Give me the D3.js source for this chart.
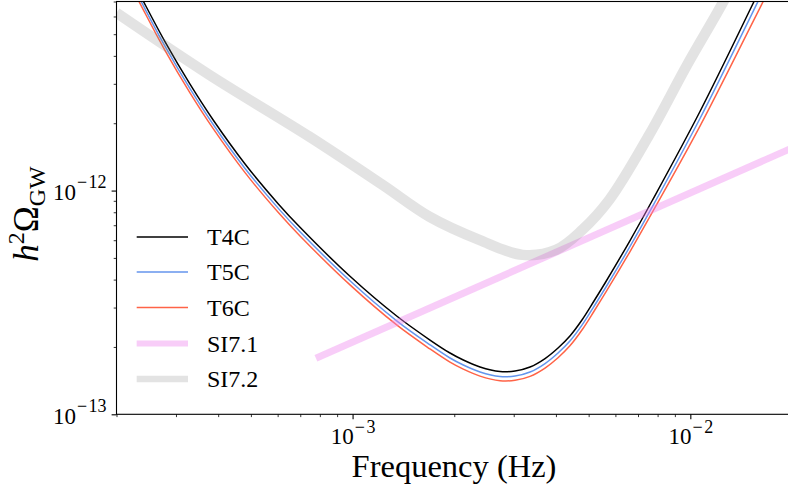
<!DOCTYPE html>
<html><head><meta charset="utf-8">
<script src="https://cdn.jsdelivr.net/npm/d3@7"></script>
<style>
body{margin:0;background:#fff}
svg{display:block}
</style>
</head><body>
<svg id="c" width="788" height="493"></svg>
<script>
// ---- data ----
const freqT = [2.0e-4, 2.391e-4, 2.783e-4, 3.301e-4, 3.862e-4, 4.804e-4, 6.028e-4, 6.988e-4, 9.826e-4,
  1.3508e-3, 1.6953e-3, 1.9428e-3, 2.1275e-3, 2.3842e-3, 2.7317e-3, 3.027e-3, 3.353e-3, 3.714e-3,
  4.058e-3, 4.401e-3, 4.777e-3, 5.186e-3, 5.627e-3, 6.629e-3, 7.700e-3, 1.068e-2, 1.536e-2, 1.7804e-2];
const t4c = [1.201e-11, 7.11e-12, 4.63e-12, 2.988e-12, 2.072e-12, 1.315e-12, 8.718e-13, 6.853e-13, 4.139e-13,
  2.750e-13, 2.148e-13, 1.879e-13, 1.748e-13, 1.6276e-13, 1.5534e-13, 1.5615e-13, 1.6276e-13, 1.7755e-13,
  1.9786e-13, 2.2388e-13, 2.6392e-13, 3.2089e-13, 3.9225e-13, 5.981e-13, 8.981e-13, 2.257e-12, 6.893e-12, 1.095e-11];
const t5c = [1.147e-11, 6.79e-12, 4.42e-12, 2.854e-12, 1.979e-12, 1.256e-12, 8.326e-13, 6.545e-13, 3.953e-13,
  2.618e-13, 2.045e-13, 1.785e-13, 1.661e-13, 1.5462e-13, 1.4757e-13, 1.4834e-13, 1.5462e-13, 1.6867e-13,
  1.8797e-13, 2.1246e-13, 2.5020e-13, 3.0388e-13, 3.7068e-13, 5.628e-13, 8.406e-13, 2.099e-12, 6.342e-12, 1.002e-11];
const t6c = [1.099e-11, 6.506e-12, 4.236e-12, 2.734e-12, 1.896e-12, 1.203e-12, 7.977e-13, 6.270e-13, 3.787e-13,
  2.508e-13, 1.959e-13, 1.710e-13, 1.591e-13, 1.4811e-13, 1.4136e-13, 1.4194e-13, 1.4779e-13, 1.6104e-13,
  1.7906e-13, 2.0239e-13, 2.3806e-13, 2.8880e-13, 3.5224e-13, 5.341e-13, 7.948e-13, 1.941e-12, 5.721e-12, 8.924e-12];
const si71Freq = [7.79e-4, 2.0e-2];
const si71 = [1.78e-13, 1.55e-12];
const si72Freq = [2.0e-4, 3.766e-4, 7.44e-4, 1.227e-3, 1.687e-3, 2.372e-3, 3.186e-3, 4.0e-3, 4.786e-3,
  5.754e-3, 7.554e-3, 9.79e-3, 1.246e-2, 1.349e-2];
const si72 = [6.23e-12, 3.29e-12, 1.744e-12, 1.06e-12, 7.65e-13, 6.02e-13, 5.16e-13, 5.43e-13, 6.67e-13,
  9.09e-13, 1.774e-12, 3.65e-12, 6.89e-12, 8.75e-12];
const xMajorExps = [-3, -2];
const yMajorExps = [-13, -12];
const xMinorTicks = [2e-4,3e-4,4e-4,5e-4,6e-4,7e-4,8e-4,9e-4,2e-3,3e-3,4e-3,5e-3,6e-3,7e-3,8e-3,9e-3];
const yMinorTicks = [2e-13,3e-13,4e-13,5e-13,6e-13,7e-13,8e-13,9e-13,2e-12,3e-12,4e-12,5e-12,6e-12,7e-12];
const legendLabels = ["T4C", "T5C", "T6C", "SI7.1", "SI7.2"];

// ---- layout ----
const FONT = '"Liberation Serif","DejaVu Serif","Times New Roman",serif';
const L = 116.5, R = 792, T = 1.5, B = 414.3;
const svg = d3.select("#c").style("font-family", FONT);
const x = d3.scaleLog().domain([2e-4, 2e-2]).range([L, R]);
const y = d3.scaleLog().domain([1e-13, 7e-12]).range([B, T]);

svg.append("defs").append("clipPath").attr("id","clip")
  .append("rect").attr("x",L).attr("y",T).attr("width",R-L).attr("height",B-T);

const styles = [
  {color:"#000000", w:1.5, lw:1.5, op:1},
  {color:"#6495ED", w:1.5, lw:1.5, op:1},
  {color:"#FF6347", w:1.5, lw:1.5, op:1},
  {color:"rgb(238,130,238)", w:7, lw:6, op:0.4},
  {color:"rgb(128,128,128)", w:10.5, lw:6.5, op:0.22}
];
const series = [
  freqT.map((f,i)=>[f,t4c[i]]),
  freqT.map((f,i)=>[f,t5c[i]]),
  freqT.map((f,i)=>[f,t6c[i]]),
  si71Freq.map((f,i)=>[f,si71[i]]),
  si72Freq.map((f,i)=>[f,si72[i]])
];
const line = d3.line().x(d=>x(d[0])).y(d=>y(d[1])).curve(d3.curveCatmullRom.alpha(0.5));
const g = svg.append("g").attr("clip-path","url(#clip)");
series.forEach((s,i)=>{
  g.append("path").datum(s).attr("d",line).attr("fill","none")
   .attr("stroke",styles[i].color).attr("stroke-width",styles[i].w)
   .attr("stroke-opacity",styles[i].op).attr("stroke-linecap","butt");
});

function styleText(sel){ sel.style("font-family", FONT).attr("fill","#000"); }
function powerLabel(t, e, raise){
  t.append("tspan").text("10");
  t.append("tspan").attr("dy",-raise).attr("dx",1).attr("font-size",18).text("\u2212");
  t.append("tspan").attr("dx",1.5).attr("font-size",18).text(e);
}

// ---- axes ----
const xMinor = d3.axisBottom(x).tickValues(xMinorTicks).tickSize(2.8).tickFormat("");
svg.append("g").attr("transform",`translate(0,${B})`).call(xMinor)
  .call(a=>a.select(".domain").remove())
  .selectAll("line").attr("stroke","#000").attr("stroke-width",0.8);
const xMajor = d3.axisBottom(x).tickValues(xMajorExps.map(e=>Math.pow(10,e))).tickSize(4.9).tickPadding(7)
  .tickFormat(d=>String(Math.round(-Math.log10(d))));
const xa = svg.append("g").attr("transform",`translate(0,${B})`).call(xMajor);
xa.attr("font-family",null);
xa.select(".domain").remove();
xa.selectAll("line").attr("stroke","#000").attr("stroke-width",1.1);
xa.selectAll("text").each(function(){
  const e = d3.select(this).text();
  const t = d3.select(this).text(null).attr("font-size",23).attr("y",30).attr("dy",0);
  styleText(t);
  powerLabel(t, e, 11);
});

const yMinor = d3.axisLeft(y).tickValues(yMinorTicks).tickSize(2.8).tickFormat("");
svg.append("g").attr("transform",`translate(${L},0)`).call(yMinor)
  .call(a=>a.select(".domain").remove())
  .selectAll("line").attr("stroke","#000").attr("stroke-width",0.8);
const yMajor = d3.axisLeft(y).tickValues(yMajorExps.map(e=>Math.pow(10,e))).tickSize(4.9).tickPadding(5)
  .tickFormat(d=>String(Math.round(-Math.log10(d))));
const ya = svg.append("g").attr("transform",`translate(${L},0)`).call(yMajor);
ya.attr("font-family",null);
ya.select(".domain").remove();
ya.selectAll("line").attr("stroke","#000").attr("stroke-width",1.1);
ya.selectAll("text").each(function(){
  const e = d3.select(this).text();
  const t = d3.select(this).text(null).attr("font-size",23).attr("dy",0).attr("y",9);
  styleText(t);
  powerLabel(t, e, 12);
});

// frame
svg.append("rect").attr("x",L).attr("y",T).attr("width",R-L).attr("height",B-T)
  .attr("fill","none").attr("stroke","#000").attr("stroke-width",1.1);

// axis labels
styleText(svg.append("text").attr("x",454).attr("y",477).attr("text-anchor","middle")
  .attr("font-size",32.5).text("Frequency (Hz)"));
const yl = svg.append("text").attr("transform","translate(38,214) rotate(-90)")
  .attr("text-anchor","middle").attr("font-size",35);
styleText(yl);
yl.append("tspan").attr("font-style","italic").text("h");
yl.append("tspan").attr("dy",-14).attr("font-size",24).text("2");
yl.append("tspan").attr("dy",14).text("\u03A9");
yl.append("tspan").attr("dy",7).attr("font-size",24).text("GW");

// legend
const rows = [237, 272, 307.5, 343.5, 379];
const lg = svg.append("g");
legendLabels.forEach((lab,i)=>{
  lg.append("line").attr("x1",136.7).attr("x2",188).attr("y1",rows[i]).attr("y2",rows[i])
    .attr("stroke",styles[i].color).attr("stroke-width",styles[i].lw).attr("stroke-opacity",styles[i].op);
  styleText(lg.append("text").attr("x",207).attr("y",rows[i]+8).attr("font-size",24).text(lab));
});
</script>
</body></html>
